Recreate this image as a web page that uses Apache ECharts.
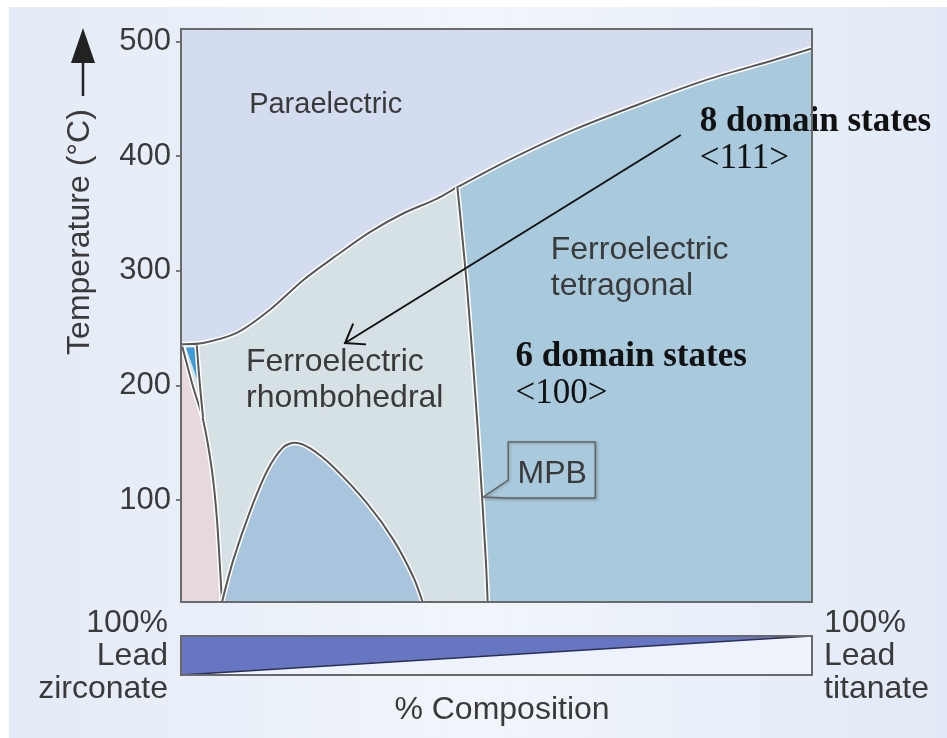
<!DOCTYPE html>
<html><head><meta charset="utf-8">
<script src="https://cdn.jsdelivr.net/npm/echarts@6/dist/echarts.min.js"></script>
<style>html,body{margin:0;padding:0;background:#fff}#c{width:947px;height:738px}</style>
</head><body><div id="c"></div>
<script>
// ---- data (x = % PbTiO3, T = °C) ----
const tMin = 11, tMax = 511;
const tempTicks = [100, 200, 300, 400, 500];
// Curie line (paraelectric / ferroelectric boundary)
const curieX = [0, 3.5, 8.9, 14.1, 19.4, 24.8, 30.0, 35.2, 40.6, 43.8, 51.7, 62.2, 72.9, 83.5, 94.0, 100];
const curieT = [236, 237, 246, 266, 292, 314, 334, 350, 363, 373, 396, 423, 446, 467, 484, 494];
// Morphotropic phase boundary
const mpbX = [43.8, 45.4, 47.0, 48.3, 48.6];
const mpbT = [373, 281, 164, 48, 11];
// Antiferroelectric (lead zirconate side) boundary
const afeX = [0.2, 1.9, 3.5, 4.9, 5.7, 6.3, 6.5];
const afeT = [234, 199, 170, 126, 83, 30, 11];
// Low-temperature rhombohedral dome
const domeX = [6.5, 8.3, 11.0, 13.7, 16.2, 18.1, 20.5, 24.1, 29.5, 33.7, 36.8, 38.3];
const domeT = [11, 48, 91, 126, 146, 150, 145, 129, 97, 65, 33, 11];
// small inner boundary and wedge near 0 %
const subX = [2.5, 3.0, 3.5];
const subT = [235, 200, 172];
const wedgeX = [0.8, 2.3, 2.9];
const wedgeT = [233, 233, 200];
// arrow from "8 domain states" to the rhombohedral field
const arrowX = [79.2, 26.0];
const arrowT = [418.5, 237];
// MPB callout anchor
const mpbTagX = [47.9];
const mpbTagT = [102.6];
// composition bar
const compX = [0, 100];
const zirconatePct = [100, 0];

// labels
const regionLabels = [
  {x: 10.8, t: 445, text: 'Paraelectric', kind: 'sans', size: 29},
  {x: 10.3, t: 205, text: 'Ferroelectric\nrhombohedral', kind: 'sans', size: 32},
  {x: 58.6, t: 302, text: 'Ferroelectric\ntetragonal', kind: 'sans', size: 32},
  {x: 82.2, t: 414, text: '{b|8 domain states}\n{n|<111>}', kind: 'serif', size: 35},
  {x: 53.0, t: 209, text: '{b|6 domain states}\n{n|<100>}', kind: 'serif', size: 35}
];

const C = {
  para: '#d4dcef', rhombo: '#d6e1e5', tetra: '#a9cadc', dome: '#a8c5dd',
  pink: '#e7d8de', wedge: '#3c9ad6', line: '#585858', text: '#3a3a3a'
};
const SANS = '"Liberation Sans", Arial, sans-serif';
const SERIF = '"Liberation Serif", "Times New Roman", serif';

function pts(api, xs, ys) { return xs.map((x, i) => api.coord([x, ys[i]])); }

function region(xsFn, fill, z) {
  return {
    type: 'custom', coordinateSystem: 'cartesian2d', xAxisIndex: 0, yAxisIndex: 0,
    data: [[50, 250]], silent: true, z: z,
    renderItem: function (params, api) {
      const d = xsFn();
      return {type: 'polygon', shape: {points: pts(api, d[0], d[1])}, style: {fill: fill}};
    }
  };
}
function curve(xs, ys, z) {
  return {
    type: 'custom', coordinateSystem: 'cartesian2d', xAxisIndex: 0, yAxisIndex: 0,
    data: [[50, 250]], silent: true, z: z,
    renderItem: function (params, api) {
      const p = pts(api, xs, ys);
      return {type: 'group', children: [
        {type: 'polyline', shape: {points: p, smooth: 0.3}, style: {stroke: '#ffffff', lineWidth: 5, fill: 'none'}},
        {type: 'polyline', shape: {points: p, smooth: 0.3}, style: {stroke: C.line, lineWidth: 2, fill: 'none'}}
      ]};
    }
  };
}

const rhomboPoly = () => {
  const xs = [0], ys = [tMin];
  for (let i = 0; i < curieX.length && curieX[i] <= mpbX[0]; i++) { xs.push(curieX[i]); ys.push(curieT[i]); }
  for (let i = 1; i < mpbX.length; i++) { xs.push(mpbX[i]); ys.push(mpbT[i]); }
  return [xs, ys];
};
const tetraPoly = () => {
  const xs = [], ys = [];
  for (let i = 0; i < curieX.length; i++) if (curieX[i] >= mpbX[0]) { xs.push(curieX[i]); ys.push(curieT[i]); }
  xs.push(100); ys.push(tMin);
  for (let i = mpbX.length - 1; i > 0; i--) { xs.push(mpbX[i]); ys.push(mpbT[i]); }
  return [xs, ys];
};
const pinkPoly = () => [[0, 0].concat(afeX), [tMin, curieT[0]].concat(afeT)];

const series = [
  region(() => [[0, 0, 100, 100], [tMin, tMax, tMax, tMin]], C.para, 1),
  region(rhomboPoly, C.rhombo, 1),
  region(tetraPoly, C.tetra, 1),
  region(() => [domeX, domeT], C.dome, 1),
  region(pinkPoly, C.pink, 1),
  region(() => [wedgeX, wedgeT], C.wedge, 1),
  curve(curieX, curieT, 2),
  curve(mpbX, mpbT, 2),
  curve(afeX, afeT, 2),
  curve(domeX, domeT, 2),
  curve(subX, subT, 2),
  // arrow
  {
    type: 'custom', coordinateSystem: 'cartesian2d', xAxisIndex: 0, yAxisIndex: 0,
    data: [[arrowX[0], arrowT[0]]], silent: true, z: 4,
    renderItem: function (params, api) {
      const a = api.coord([arrowX[0], arrowT[0]]);
      const b = api.coord([arrowX[1], arrowT[1]]);
      const ang = Math.atan2(a[1] - b[1], a[0] - b[0]);
      const L = 21, s = 0.62;
      const h1 = [b[0] + L * Math.cos(ang + s), b[1] + L * Math.sin(ang + s)];
      const h2 = [b[0] + L * Math.cos(ang - s), b[1] + L * Math.sin(ang - s)];
      return {type: 'group', children: [
        {type: 'line', shape: {x1: a[0], y1: a[1], x2: b[0], y2: b[1]}, style: {stroke: '#111', lineWidth: 2}},
        {type: 'polyline', shape: {points: [h1, b, h2]}, style: {stroke: '#111', lineWidth: 2, fill: 'none'}}
      ]};
    }
  },
  // MPB callout
  {
    type: 'custom', coordinateSystem: 'cartesian2d', xAxisIndex: 0, yAxisIndex: 0,
    data: [[mpbTagX[0], mpbTagT[0]]], silent: true, z: 4,
    renderItem: function (params, api) {
      const p = api.coord([api.value(0), api.value(1)]);
      const o = [[25, -17], [0, 0], [25, 1], [112, 1], [112, -55], [25, -55]];
      return {type: 'group', children: [
        {type: 'polygon', shape: {points: o.map(q => [p[0] + q[0], p[1] + q[1]])},
          style: {fill: C.tetra, stroke: '#666', lineWidth: 1.5, shadowBlur: 3, shadowColor: 'rgba(0,0,0,0.25)', shadowOffsetX: 1, shadowOffsetY: 1}},
        {type: 'text', x: p[0] + 69, y: p[1] - 23,
          style: {text: 'MPB', font: '32px ' + SANS, fill: C.text, align: 'center', verticalAlign: 'middle'}}
      ]};
    }
  },
  // region labels
  {
    type: 'custom', coordinateSystem: 'cartesian2d', xAxisIndex: 0, yAxisIndex: 0,
    data: regionLabels.map(l => [l.x, l.t]), silent: true, z: 5,
    renderItem: function (params, api) {
      const l = regionLabels[params.dataIndex];
      const p = api.coord([api.value(0), api.value(1)]);
      if (l.kind === 'sans') {
        return {type: 'text', x: p[0], y: p[1], style: {text: l.text, font: l.size + 'px ' + SANS, fill: C.text,
          align: 'left', verticalAlign: 'middle', lineHeight: 36}};
      }
      return {type: 'text', x: p[0], y: p[1], style: {text: l.text, align: 'left', verticalAlign: 'middle',
        rich: {
          b: {fontFamily: SERIF, fontSize: l.size, fontWeight: 'bold', fill: '#111', color: '#111', lineHeight: 37},
          n: {fontFamily: SERIF, fontSize: l.size, fill: '#111', color: '#111', lineHeight: 37}
        }}};
    }
  },
  // composition bar background
  {
    type: 'custom', coordinateSystem: 'cartesian2d', xAxisIndex: 1, yAxisIndex: 1,
    data: [[50, 50]], silent: true, z: 1,
    renderItem: function (params, api) {
      return {type: 'polygon', shape: {points: pts(api, [0, 0, 100, 100], [0, 100, 100, 0])}, style: {fill: '#eef2fa'}};
    }
  },
  // composition bar: lead zirconate fraction
  {
    type: 'line', xAxisIndex: 1, yAxisIndex: 1, data: compX.map((x, i) => [x, zirconatePct[i]]),
    showSymbol: false, silent: true, z: 2,
    lineStyle: {color: '#2a2f55', width: 1.5},
    areaStyle: {color: '#6676c3', opacity: 1, origin: 'start'}
  }
];

const option = {
  animation: false,
  backgroundColor: '#ffffff',
  graphic: [
    {type: 'rect', z: -10, silent: true, shape: {x: 9, y: 7, width: 938, height: 731},
      style: {fill: {type: 'linear', x: 0, y: 0, x2: 1, y2: 0, colorStops: [
        {offset: 0, color: '#e3ebf6'}, {offset: 0.5, color: '#f1f5fb'}, {offset: 1, color: '#e1eaf6'}]}}},
    {type: 'text', x: 80, y: 232, rotation: Math.PI / 2, silent: true,
      style: {text: 'Temperature (°C)', font: '32px ' + SANS, fill: C.text, align: 'center', verticalAlign: 'middle'}},
    {type: 'line', silent: true, shape: {x1: 83, y1: 96, x2: 83, y2: 58}, style: {stroke: '#222', lineWidth: 2.5}},
    {type: 'polygon', silent: true, shape: {points: [[71, 63], [95, 63], [83, 28]]}, style: {fill: '#222'}},
    {type: 'text', x: 168, y: 656, silent: true,
      style: {text: '100%\nLead\nzirconate', font: '32px ' + SANS, fill: C.text, align: 'right', verticalAlign: 'middle', lineHeight: 33}},
    {type: 'text', x: 824, y: 656, silent: true,
      style: {text: '100%\nLead\ntitanate', font: '32px ' + SANS, fill: C.text, align: 'left', verticalAlign: 'middle', lineHeight: 33}},
    {type: 'text', x: 502, y: 710, silent: true,
      style: {text: '% Composition', font: '32px ' + SANS, fill: C.text, align: 'center', verticalAlign: 'middle'}}
  ],
  grid: [
    {left: 181, top: 29, width: 631, height: 573, show: true, borderColor: '#6a6a6a', borderWidth: 2, backgroundColor: 'transparent', z: 10},
    {left: 181, top: 636, width: 631, height: 39, show: true, borderColor: '#6a6a6a', borderWidth: 2, backgroundColor: 'transparent', z: 10}
  ],
  xAxis: [
    {type: 'value', gridIndex: 0, min: 0, max: 100, show: false},
    {type: 'value', gridIndex: 1, min: 0, max: 100, show: false}
  ],
  yAxis: [
    {type: 'value', gridIndex: 0, min: tMin, max: tMax,
      axisLine: {show: false}, splitLine: {show: false},
      axisTick: {show: true, length: 5, customValues: tempTicks, lineStyle: {color: '#555', width: 1.5}},
      axisLabel: {customValues: tempTicks, margin: 10, fontSize: 31, fontFamily: SANS, color: C.text}},
    {type: 'value', gridIndex: 1, min: 0, max: 100, inverse: true, show: false}
  ],
  series: series
};

const chart = echarts.init(document.getElementById('c'), null, {renderer: 'canvas'});
chart.setOption(option);
</script>
</body></html>
